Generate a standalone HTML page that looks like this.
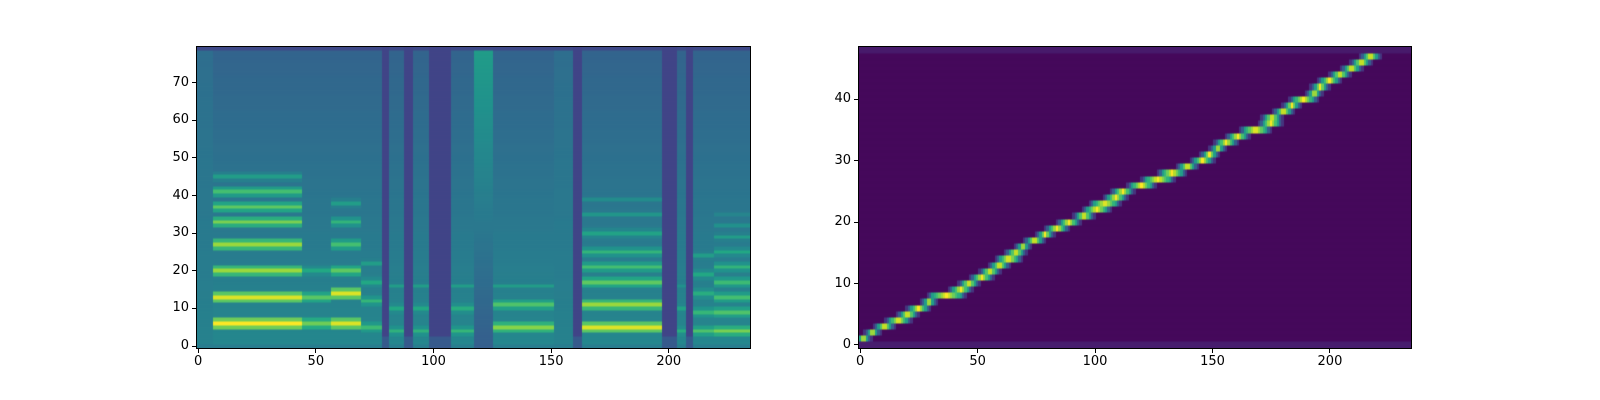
<!DOCTYPE html>
<html><head><meta charset="utf-8"><style>
html,body{margin:0;padding:0;background:#fff;width:1600px;height:400px;overflow:hidden;}
#fig{position:relative;width:1600px;height:400px;overflow:hidden;background:#fff;font-family:"DejaVu Sans","Liberation Sans",sans-serif;font-size:13px;color:#000;}
canvas{position:absolute;display:block;}
.frame{position:absolute;border:1px solid #000;box-sizing:border-box;}
.tick{position:absolute;background:#000;}
.lbl{position:absolute;white-space:nowrap;}
</style></head><body>
<div id="fig"></div>
<script>
// ---- Data ----
const nFrames = 235;
const nMels = 80;
const nTokens = 49;
const xTicks = [0, 50, 100, 150, 200];
const melTicks = [0, 10, 20, 30, 40, 50, 60, 70];
const tokTicks = [0, 10, 20, 30, 40];
// spectrogram segments: start frame, end frame, type
const segStart = [0, 7, 45, 57, 70, 79, 82, 88, 92, 99, 108, 118, 126, 152, 160, 164, 198, 204, 208, 211, 220];
const segEnd   = [7, 45, 57, 70, 79, 82, 88, 92, 99, 108, 118, 126, 152, 160, 164, 198, 204, 208, 211, 220, 235];
const segType  = ['u','v','v','v','v','s','v','s','v','s','v','f','v','u','s','v','s','v','s','v','v'];
const segHarm  = [[],[6,13,20,27,33,37,41,45],[6,13,20],[6,14,20,27,33,38],[5,12,17,22],[],[4,10,16],[],[4,10,16],[],[4,10,16],[],[5,11,16],[],[],[5,11,17,21,25,30,35,39],[],[4,10,16],[],[4,9,14,19,24],[4,9,13,17,21,25,29,32,35]];
const segAmp   = [[],[1,.95,.85,.85,.8,.75,.7,.55],[.78,.74,.6],[.95,.95,.75,.7,.65,.55],[.68,.66,.6,.55],[],[.64,.6,.55],[],[.64,.6,.55],[],[.66,.62,.55],[],[.82,.72,.55],[],[],[.95,.85,.75,.7,.65,.58,.52,.48],[],[.62,.58,.5],[],[.72,.66,.62,.6,.55],[.8,.72,.7,.68,.65,.6,.55,.5,.45]];
// alignment: frames attended per token
const tokStart = [0,0,4,8,13,18,22,28,31,40,44,49,53,57,60,64,68,72,77,81,86,93,97,100,106,109,116,122,129,137,143,147,151,153,158,164,172,173,178,182,185,192,194,197,202,207,211,215,0];
const tokEnd   = [0,3,7,13,20,23,28,31,43,46,49,55,58,62,67,69,71,77,81,87,92,98,105,109,112,115,124,132,137,142,149,151,154,159,164,173,178,178,183,186,193,195,198,203,207,212,216,220,0];

// ---- helpers ----
const stops=[[0,0x44,0x01,0x54],[.1,0x48,0x24,0x75],[.2,0x41,0x44,0x87],[.3,0x35,0x5f,0x8d],[.4,0x2a,0x78,0x8e],[.5,0x21,0x91,0x8c],[.6,0x22,0xa8,0x84],[.7,0x44,0xbf,0x70],[.8,0x7a,0xd1,0x51],[.9,0xbd,0xdf,0x26],[1,0xfd,0xe7,0x25]];
function viridis(v){v=Math.max(0,Math.min(1,v));for(let i=1;i<stops.length;i++){if(v<=stops[i][0]){const a=stops[i-1],b=stops[i],t=(v-a[0])/(b[0]-a[0]);return 'rgb('+Math.round(a[1]+(b[1]-a[1])*t)+','+Math.round(a[2]+(b[2]-a[2])*t)+','+Math.round(a[3]+(b[3]-a[3])*t)+')';}}return 'rgb(253,231,37)';}
const fig=document.getElementById('fig');

function makeAxes(name,left,top,w,h,nx,ny,yticks,valueFn){
  const cv=document.createElement('canvas');
  
  
  cv.width=w;cv.height=h;cv.style.left=left+'px';cv.style.top=top+'px';cv.style.width=w+'px';cv.style.height=h+'px';
  fig.appendChild(cv);
  const ctx=cv.getContext('2d');
  const sx=w/nx, sy=h/ny;
  for(let f=0;f<nx;f++)for(let r=0;r<ny;r++){
    ctx.fillStyle=viridis(valueFn(f,r));
    const x0=Math.floor(f*sx),x1=Math.floor((f+1)*sx);
    const y0=Math.floor(h-(r+1)*sy),y1=Math.floor(h-r*sy);
    ctx.fillRect(x0,y0,x1-x0+0.5,y1-y0+0.5);
  }
  const fr=document.createElement('div');
  fr.className='frame';
  
  
  fr.style.left=(left-1)+'px';fr.style.top=(top-1)+'px';fr.style.width=(w+2)+'px';fr.style.height=(h+2)+'px';
  fig.appendChild(fr);
  xTicks.forEach(v=>{
    const px=left+(v+0.5)*sx;
    const t=document.createElement('div');t.className='tick';
    
    
    t.style.left=(px-0.5)+'px';t.style.top=(top+h+1)+'px';t.style.width='1px';t.style.height='4px';fig.appendChild(t);
    const l=document.createElement('div');l.className='lbl';
    
    
    l.textContent=v;l.style.left=(px-20)+'px';l.style.width='40px';l.style.textAlign='center';l.style.top=(top+h+6)+'px';fig.appendChild(l);
  });
  yticks.forEach(v=>{
    const py=top+h-(v+0.5)*sy;
    const t=document.createElement('div');t.className='tick';
    
    
    t.style.left=(left-5)+'px';t.style.top=(py-0.5)+'px';t.style.width='4px';t.style.height='1px';fig.appendChild(t);
    const l=document.createElement('div');l.className='lbl';
    
    
    l.textContent=v;l.style.left=(left-48)+'px';l.style.width='40px';l.style.textAlign='right';l.style.top=(py-8)+'px';fig.appendChild(l);
  });
}

function segOf(f){for(let i=0;i<segStart.length;i++){if(f>=segStart[i]&&f<segEnd[i])return i;}return segStart.length-1;}
function melValue(f,r){
  const i=segOf(f),t=segType[i];
  let v;
  if(t==='s'){v=0.2+(r<3?0.08:0);}
  else if(t==='u'){v=0.44-0.08*(r/79);}
  else if(t==='f'){v=0.3+0.25*(r/79);}
  else{
    v=0.46-0.14*(r/79);
    const hs=segHarm[i],am=segAmp[i];
    for(let k=0;k<hs.length;k++){const d=r-hs[k];const g=am[k]*Math.exp(-d*d/4);if(g>v)v=g;}
  }
  if(r===79)v=Math.min(v,0.22);
  if(r===0)v=Math.min(v,0.42);
  return v;
}
function alignValue(f,r){
  if(r===0)return 0.08;
  if(r===48)return 0.07;
  const s=tokStart[r],e=tokEnd[r];
  let v=0.02;
  if(f>=s&&f<=e){const c=(s+e)/2,hw=Math.max(1,(e-s)/2);v=1-0.45*Math.abs(f-c)/hw;}
  else{const d=f<s?s-f:f-e;if(d<=2)v=0.3/d;}
  return v;
}
makeAxes('mel-spectrogram',197,47,553,301,nFrames,nMels,melTicks,melValue);
makeAxes('alignment',859,47,552,301,nFrames,nTokens,tokTicks,alignValue);
</script>
</body></html>
